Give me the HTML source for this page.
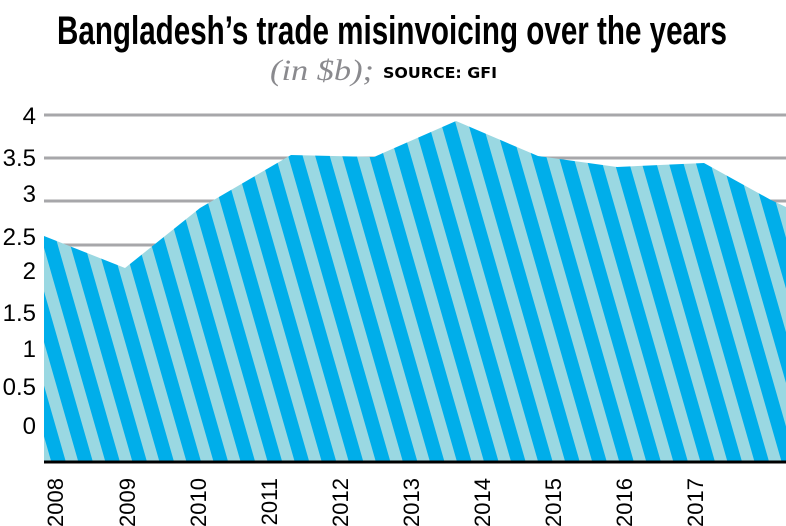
<!DOCTYPE html>
<html><head><style>
body{margin:0;width:786px;height:526px;overflow:hidden;background:#fff;}
</style></head><body>
<svg width="786" height="526" xmlns="http://www.w3.org/2000/svg" style="display:block">
<defs>
<pattern id="st" width="26" height="40" patternUnits="userSpaceOnUse" patternTransform="rotate(-16)">
<rect width="26" height="40" fill="#9ad8e2"/>
<rect width="14" height="40" fill="#00aeea"/>
</pattern>
</defs>
<text x="392" y="44" text-anchor="middle" font-family="Liberation Sans Narrow, Liberation Sans, sans-serif" font-weight="bold" font-size="40" textLength="670" lengthAdjust="spacingAndGlyphs">Bangladesh’s trade misinvoicing over the years</text>
<text x="270" y="80" font-family="Liberation Serif, serif" font-style="italic" font-size="30" fill="#8a8a8e" textLength="104" lengthAdjust="spacingAndGlyphs">(in $b);</text>
<text x="383" y="78" font-family="DejaVu Sans, sans-serif" font-weight="bold" font-size="15" textLength="114" lengthAdjust="spacingAndGlyphs">SOURCE: GFI</text>
<g stroke="#a7a7aa" stroke-width="3">
<line x1="44" x2="786" y1="115" y2="115"/>
<line x1="44" x2="786" y1="158" y2="158"/>
<line x1="44" x2="786" y1="201" y2="201"/>
<line x1="44" x2="786" y1="245" y2="245"/>
</g>
<polygon fill="url(#st)" points="44,236 125,268 200,208 291,155 374,157 456,121 538,156 617,167 704,163 771,200 786,207 786,461 44,461"/>
<line x1="44" x2="786" y1="462" y2="462" stroke="#000" stroke-width="3"/>
<g font-family="Liberation Sans Narrow, Liberation Sans, sans-serif" font-size="24" text-anchor="end">
<text x="36" y="124">4</text>
<text x="36" y="166">3.5</text>
<text x="36" y="202">3</text>
<text x="36" y="245">2.5</text>
<text x="36" y="279">2</text>
<text x="36" y="321">1.5</text>
<text x="36" y="357">1</text>
<text x="36" y="395">0.5</text>
<text x="36" y="434">0</text>
</g>
<g font-family="Liberation Sans Narrow, Liberation Sans, sans-serif" font-size="22" text-anchor="end">
<text transform="translate(63,478) rotate(-90)">2008</text>
<text transform="translate(135,478) rotate(-90)">2009</text>
<text transform="translate(206,478) rotate(-90)">2010</text>
<text transform="translate(277,478) rotate(-90)">2011</text>
<text transform="translate(348,478) rotate(-90)">2012</text>
<text transform="translate(419,478) rotate(-90)">2013</text>
<text transform="translate(490,478) rotate(-90)">2014</text>
<text transform="translate(561,478) rotate(-90)">2015</text>
<text transform="translate(632,478) rotate(-90)">2016</text>
<text transform="translate(703,478) rotate(-90)">2017</text>
</g>
</svg>
</body></html>
